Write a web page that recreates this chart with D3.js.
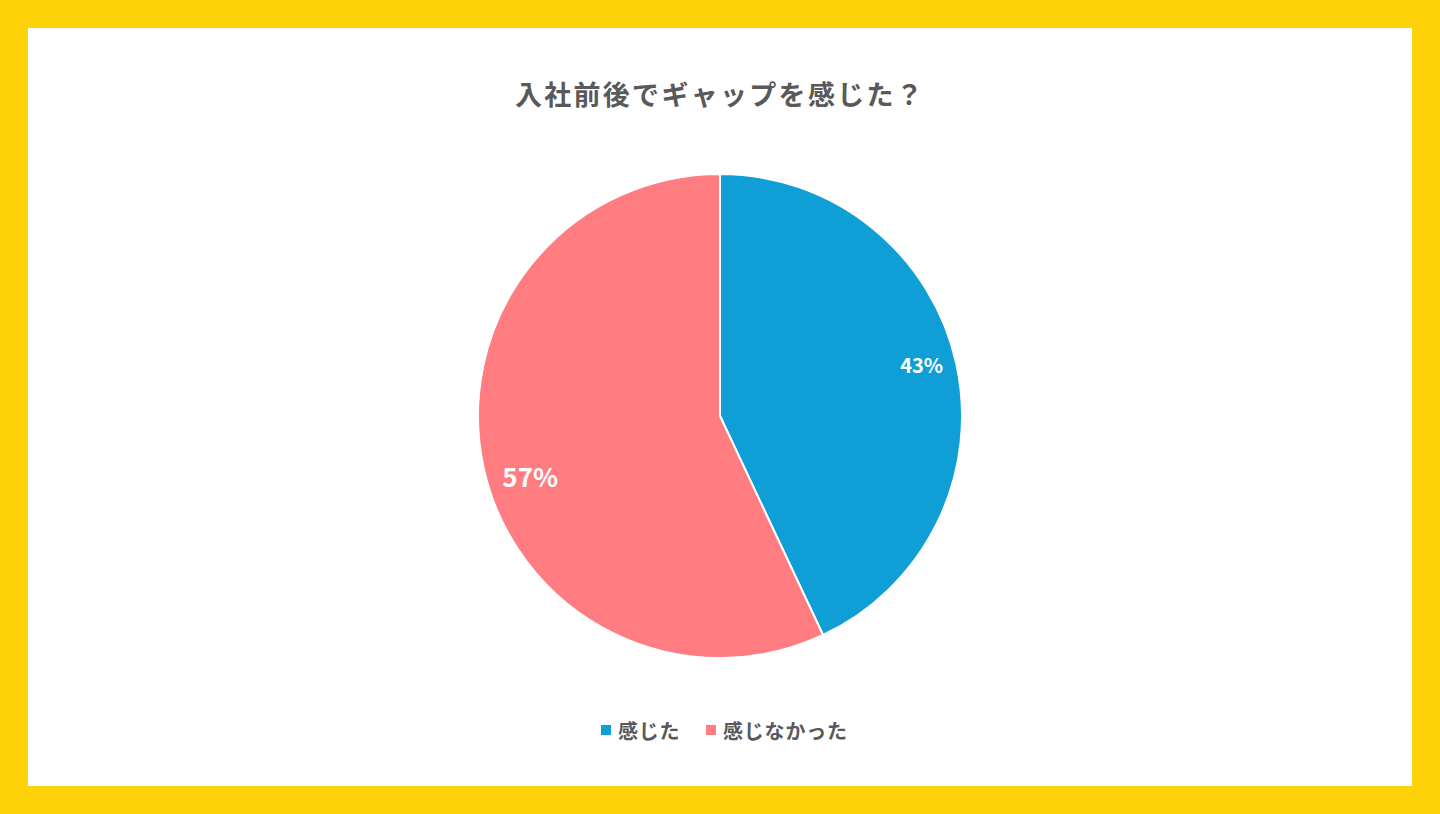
<!DOCTYPE html>
<html lang="ja">
<head>
<meta charset="utf-8">
<style>
  html, body { margin: 0; padding: 0; background: #FED208; }
  svg { display: block; }
  text { font-family: "Noto Sans CJK JP", "Noto Sans", sans-serif; }
</style>
</head>
<body>
<svg id="chart" width="1440" height="814"></svg>
<script src="https://d3js.org/d3.v7.min.js"></script>
<script>
// data
var title = "入社前後でギャップを感じた？";
var categories = ["感じた", "感じなかった"];
var values = [43, 57];
var colors = ["#109ED6", "#FF7C80"];

var width = 1440, height = 814;
var svg = d3.select("#chart");

// yellow frame + white panel
svg.append("rect").attr("width", width).attr("height", height).attr("fill", "#FED208");
svg.append("rect").attr("x", 28).attr("y", 28)
    .attr("width", width - 56).attr("height", height - 56)
    .attr("fill", "#FFFFFF");

svg.append("text")
    .attr("x", 720).attr("y", 93)
    .attr("text-anchor", "middle")
    .attr("dominant-baseline", "central")
    .attr("font-size", 27)
    .attr("letter-spacing", 2.3)
    .attr("font-weight", "bold")
    .attr("fill", "#595959")
    .text(title);

var cx = 720, cy = 416, r = 242;
var data = categories.map(function (c, i) { return { name: c, value: values[i], color: colors[i] }; });

var pie = d3.pie().value(function (d) { return d.value; }).sort(null);
var arc = d3.arc().innerRadius(0).outerRadius(r);

var g = svg.append("g").attr("transform", "translate(" + cx + "," + cy + ")");
var arcs = pie(data);

g.selectAll("path")
    .data(arcs)
    .enter()
    .append("path")
    .attr("d", arc)
    .attr("fill", function (d) { return d.data.color; })
    .attr("stroke", "#FFFFFF")
    .attr("stroke-width", 2);

// label placement: radius and small angle nudge (degrees) per slice
var labelSizes = [20, 26];
var labelRadius = [208, 199];
var labelNudge = [-1.6, -4.9];
g.selectAll("text.lbl")
    .data(arcs)
    .enter()
    .append("text")
    .attr("class", "lbl")
    .attr("transform", function (d, i) {
        var a = (d.startAngle + d.endAngle) / 2 + labelNudge[i] * Math.PI / 180;
        var x = Math.sin(a) * labelRadius[i], y = -Math.cos(a) * labelRadius[i];
        return "translate(" + x + "," + y + ")";
    })
    .attr("text-anchor", "middle")
    .attr("dominant-baseline", "central")
    .attr("font-family", "Roboto, 'Noto Sans', sans-serif")
    .attr("font-weight", "bold")
    .attr("font-size", function (d, i) { return labelSizes[i]; })
    .attr("fill", "#FFFFFF")
    .text(function (d) { return d.data.value + "%"; });

// legend
var legendX = [601, 706];
var lg = svg.append("g");
var items = lg.selectAll("g")
    .data(data)
    .enter()
    .append("g")
    .attr("transform", function (d, i) { return "translate(" + legendX[i] + ",730)"; });
items.append("rect")
    .attr("x", 0).attr("y", -5)
    .attr("width", 10).attr("height", 10)
    .attr("fill", function (d) { return d.color; });
items.append("text")
    .attr("x", 17).attr("y", 0)
    .attr("dominant-baseline", "central")
    .attr("font-size", 20)
    .attr("letter-spacing", 0.8)
    .attr("font-weight", "bold")
    .attr("fill", "#595959")
    .text(function (d) { return d.name; });
</script>
</body>
</html>
